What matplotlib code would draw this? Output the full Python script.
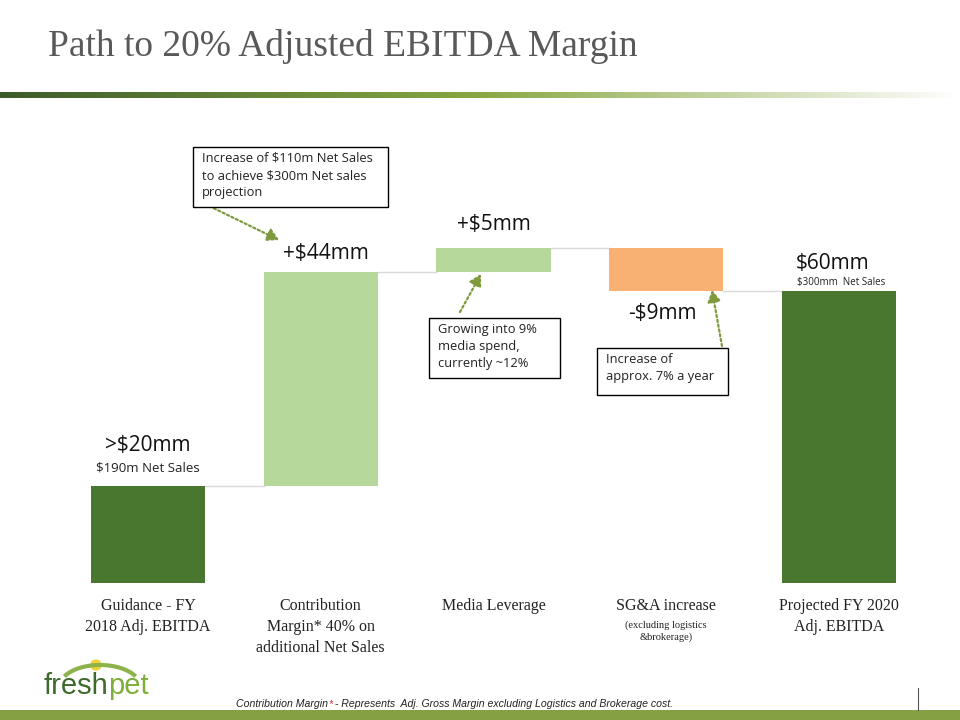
import numpy as np
import matplotlib
matplotlib.use('Agg')
import matplotlib.pyplot as plt
from matplotlib.patches import Arc, Circle, FancyArrowPatch

# Data
categories = ['Guidance - FY\n2018 Adj. EBITDA',
              'Contribution\nMargin* 40% on\nadditional Net Sales',
              'Media Leverage',
              'SG&A increase',
              'Projected FY 2020\nAdj. EBITDA']
values = [20, 44, 5, -9, 60]
kinds = ['total', 'up', 'up', 'down', 'total']
value_labels = ['>$20mm', '+$44mm', '+$5mm', '-$9mm', '$60mm']

colors = {'total': '#4a7730', 'up': '#b6d99b', 'down': '#f8b173'}
serif = 'Liberation Serif'
sans = 'Open Sans'

fig = plt.figure(figsize=(9.6, 7.2), dpi=100)
renderer = fig.canvas.get_renderer()

# title and decoration
fig.text(48 / 960, 1 - 46 / 720, 'Path to 20% Adjusted EBITDA Margin',
         fontsize=27, family=serif, color='#595959', va='center', ha='left')
grad_ax = fig.add_axes([0, 1 - 98 / 720, 1, 6 / 720])
grad = np.linspace(0, 1, 256)
c0 = np.array([0.24, 0.36, 0.17])
c1 = np.array([0.53, 0.66, 0.26])
c2 = np.array([1.0, 1.0, 1.0])
rgb = []
for g in grad:
    if g < 0.5:
        rgb.append(c0 + (c1 - c0) * g / 0.5)
    else:
        rgb.append(c1 + (c2 - c1) * (g - 0.5) / 0.5)
grad_ax.imshow(np.array([rgb]), aspect='auto', extent=[0, 1, 0, 1])
grad_ax.axis('off')

band = fig.add_axes([0, 0, 1, 10 / 720])
band.set_facecolor('#84a043')
band.set_xticks([])
band.set_yticks([])
for s in band.spines.values():
    s.set_visible(False)

# waterfall axes
ax = fig.add_axes([61.6 / 960, 137 / 720, 863.8 / 960, 486 / 720])
ax.set_xlim(-0.5, 4.5)
ax.set_ylim(0, 100)
ax.axis('off')

x = np.arange(len(values))
bottoms = []
tops = []
running = 0
for v, k in zip(values, kinds):
    if k == 'total':
        bottoms.append(0)
        tops.append(v)
        running = v
    else:
        bottoms.append(min(running, running + v))
        tops.append(max(running, running + v))
        running += v
heights = [t - b for t, b in zip(tops, bottoms)]
ax.bar(x, heights, bottom=bottoms, width=0.66,
       color=[colors[k] for k in kinds], zorder=2)

# connector lines
level = 0
for i in range(len(values) - 1):
    level = values[i] if kinds[i] == 'total' else level + values[i]
    ax.plot([i + 0.33, i + 1 - 0.33], [level, level], color='#d9d9d9', lw=1, zorder=1)

# value labels
lab_y = [tops[0] + 8.3, tops[1] + 3.7, tops[2] + 4.8, bottoms[3] - 4.5, tops[4] + 5.8]
lab_x = [0, 0.03, 0, -0.02, -0.04]
for i, t in enumerate(value_labels):
    ax.text(x[i] + lab_x[i], lab_y[i], t, ha='center', va='center',
            fontsize=15, family=sans, color='#111111')
ax.text(0, tops[0] + 3.7, '$190m Net Sales', ha='center', va='center',
        fontsize=9.5, family=sans, color='#222222')
ax.text(4.01, tops[4] + 1.8, '$300mm  Net Sales', ha='center', va='center',
        fontsize=7, family=sans, color='#222222')

# category labels; overlay a red asterisk on the '*' characters
for i, c in enumerate(categories):
    t = ax.text(x[i], -3, c, ha='center', va='top', fontsize=11.5, family=serif,
                color='#222222', linespacing=1.45)
ax.text(x[3], -7.6, '(excluding logistics\n&brokerage)', ha='center', va='top',
        fontsize=7.5, family=serif, color='#222222', linespacing=1.35)


def red_star(prefix, full, kw, anchor):
    # place full string in pieces so '*' can be red
    t0 = fig.text(anchor[0], anchor[1], prefix, **kw)
    bb = t0.get_window_extent(renderer)
    star = fig.text(bb.x1 / 960, anchor[1], '*', color='#d03030',
                    **{k: v for k, v in kw.items() if k != 'color'})
    bb2 = star.get_window_extent(renderer)
    fig.text(bb2.x1 / 960, anchor[1], full, **kw)


# annotation boxes
def fig_xy(px, py):
    return (px / 960, 1 - py / 720)


def note(px, py, w, h, text):
    fx, fy = fig_xy(px, py + h)
    fig.patches.append(plt.Rectangle((fx, fy), w / 960, h / 720, transform=fig.transFigure,
                                     fill=True, facecolor='white', edgecolor='black', lw=1, zorder=5))
    fig.text((px + 9) / 960, 1 - (py + 5) / 720, text, ha='left', va='top',
             fontsize=9.3, family=sans, color='#222222', linespacing=1.4, zorder=6)


def arrow(p0, p1):
    fig.add_artist(FancyArrowPatch(
        fig_xy(*p0), fig_xy(*p1), transform=fig.transFigure,
        arrowstyle='-|>,head_length=7,head_width=4', linestyle=(0, (1, 1.2)),
        color='#7f9a3e', lw=1.6, mutation_scale=1, shrinkA=0, shrinkB=0, zorder=4))


note(193, 147, 195, 60, 'Increase of $110m Net Sales\nto achieve $300m Net sales\nprojection')
note(429, 318, 131, 60, 'Growing into 9%\nmedia spend,\ncurrently ~12%')
note(597, 348, 131, 47, 'Increase of\napprox. 7% a year')
arrow((205, 204), (279, 240))
arrow((460, 312), (481, 274))
arrow((722, 346), (712, 290))

# footer
red_star('Contribution Margin',
         ' - Represents  Adj. Gross Margin excluding Logistics and Brokerage cost.',
         dict(fontsize=7.6, family='Liberation Sans', style='italic', color='#222222',
              va='center', ha='left'),
         (236 / 960, 1 - 704 / 720))
fig.add_artist(plt.Line2D([918 / 960, 918 / 960], [1 - 710 / 720, 1 - 688 / 720],
                          transform=fig.transFigure, color='#555555', lw=0.8))

# logo
fig.text(44 / 960, 1 - 686 / 720, 'fresh', fontsize=21, family='Liberation Sans',
         color='#3e6b2c', va='center', ha='left')
fig.text(108 / 960, 1 - 686 / 720, 'pet', fontsize=21, family='Liberation Sans',
         color='#7fae3a', va='center', ha='left')
lax = fig.add_axes([40 / 960, 1 - 680 / 720, 130 / 960, 25 / 720])
lax.set_xlim(0, 130)
lax.set_ylim(0, 25)
lax.axis('off')
lax.add_patch(Circle((56, 15), 5, color='#f2d13a'))
lax.add_patch(Arc((60, -6), 80, 42, theta1=15, theta2=165, color='#8db34a', lw=3))

fig.savefig('out.png', dpi=100)
